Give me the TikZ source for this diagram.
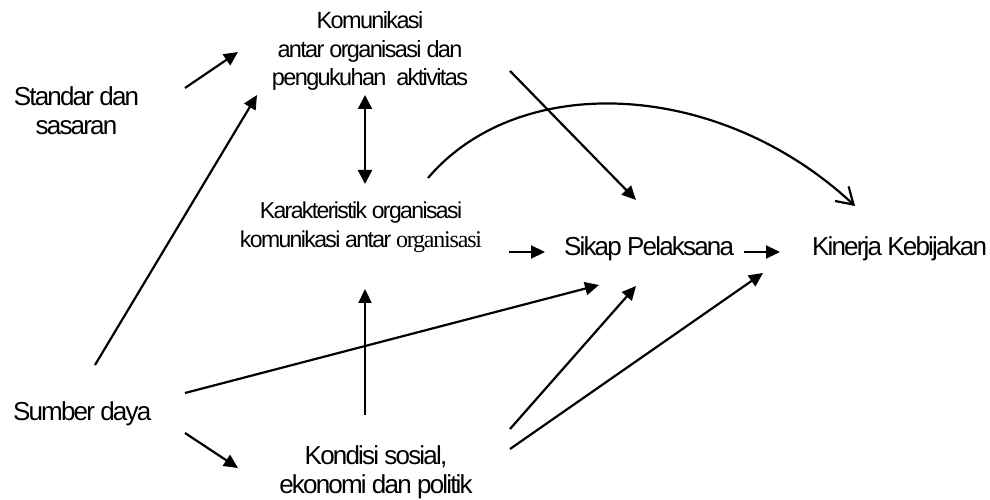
\documentclass[tikz,border=0pt]{standalone}
\usepackage{fontspec}
\setmainfont{Liberation Sans}[LetterSpace=-7]
\newfontfamily\serifword{Liberation Serif}[LetterSpace=-5]
\usetikzlibrary{arrows.meta,calc}

\tikzset{
  lbl/.style={inner sep=0pt, outer sep=0pt, align=center,
    font=\fontsize{26bp}{29bp}\selectfont},
  arr/.style={line width=2.2bp, -{Triangle[length=14bp,width=13bp]}},
  dbl/.style={line width=2.2bp, {Triangle[length=14bp,width=14bp]}-{Triangle[length=14bp,width=14bp]}},
  openarr/.style={line width=2.2bp, -{Straight Barb[length=16bp,width=20bp,line width=2.2bp]}}
}

\begin{document}
\begin{tikzpicture}[x=1bp,y=-1bp]
  \useasboundingbox[fill=white] (0,0) rectangle (990,500);

  % factor nodes (base anchor = baseline of the last line)
  \node[lbl, anchor=base] (std) at (76.5,135)
    {\fontsize{26bp}{32bp}\selectfont Standar dan\\sasaran};
  \node[lbl, anchor=base, font=\fontsize{23.5bp}{28.5bp}\selectfont] (kom) at (370,86)
    {Komunikasi\\antar organisasi dan\\pengukuhan\ \ aktivitas};
  \node[lbl, anchor=base, font=\fontsize{23bp}{29bp}\selectfont] (kar) at (361,248)
    {Karakteristik organisasi\\komunikasi antar {\serifword\fontsize{24bp}{29bp}\selectfont organisasi}};
  \node[lbl, anchor=base west] (sik) at (564,256) {Sikap Pelaksana};
  \node[lbl, anchor=base west] (kin) at (812,256) {Kinerja Kebijakan};
  \node[lbl, anchor=base west] (sum) at (13,420) {Sumber daya};
  \node[lbl, anchor=base] (kon) at (376,493)
    {Kondisi sosial,\\ekonomi dan politik};

  % influences
  \draw[arr] ([shift={(108.5,-47)}]std.base) -- ([shift={(-132,-34)}]kom.base);
  \draw[arr] ([shift={(82,-55)}]sum.base west) -- ([shift={(-113,9)}]kom.base);
  \draw[dbl] ([shift={(-5,9)}]kom.base) -- ([shift={(4,-64)}]kar.base);
  \draw[arr] ([shift={(140,-15)}]kom.base) -- ([shift={(72,-56)}]sik.base west);
  \draw[openarr] ([shift={(67,-70)}]kar.base)
    .. controls (520,70) and (720,80) .. ([shift={(43,-50)}]kin.base west);
  \draw[arr] ([shift={(148,4)}]kar.base) -- ([shift={(-19,-4)}]sik.base west);
  \draw[arr] ([shift={(180,-4)}]sik.base west) -- ([shift={(-32,-4)}]kin.base west);
  \draw[arr] ([shift={(172,-27)}]sum.base west) -- ([shift={(35,29)}]sik.base west);
  \draw[arr] ([shift={(-11,-78)}]kon.base) -- ([shift={(4,41)}]kar.base);
  \draw[arr] ([shift={(172,13)}]sum.base west) -- ([shift={(-138,-25)}]kon.base);
  \draw[arr] ([shift={(134,-64)}]kon.base) -- ([shift={(72,30)}]sik.base west);
  \draw[arr] ([shift={(134,-44)}]kon.base) -- ([shift={(-49,17)}]kin.base west);
\end{tikzpicture}
\end{document}
